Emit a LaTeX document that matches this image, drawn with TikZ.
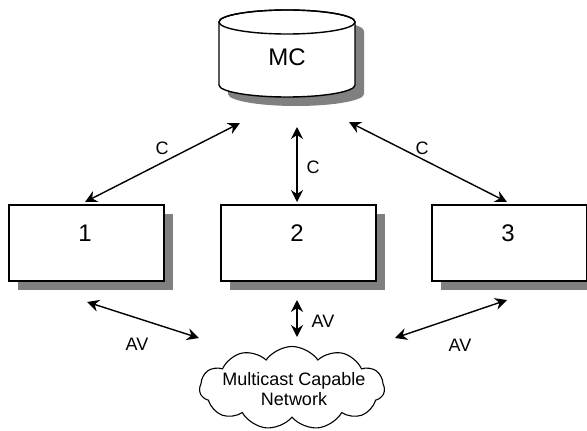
\documentclass[tikz,border=0pt]{standalone}
\usepackage{fontspec}
\setmainfont{Liberation Sans}
\usetikzlibrary{arrows.meta,shapes.symbols,shadows}
\begin{document}
\begin{tikzpicture}[x=1pt,y=-1pt,
  box/.style={draw, line width=1.7pt, fill=white, minimum width=155pt, minimum height=76pt, inner sep=0pt, anchor=north west,
    drop shadow={shadow xshift=9pt, shadow yshift=-9pt, fill=black!50, opacity=1}},
  shade/.style={fill=black!50},
  arr/.style={line width=1.4pt, {Stealth[length=12pt,width=12pt,inset=4pt]}-{Stealth[length=12pt,width=12pt,inset=4pt]}},
  lbl/.style={font=\fontsize{18}{20}\selectfont, inner sep=0pt},
  big/.style={font=\fontsize{24}{27}\selectfont, inner sep=0pt}]
\useasboundingbox (0,0) rectangle (587,431);
% cylinder MC
\begin{scope}[shift={(9,9)}]
  \fill[shade] (219,22) arc[start angle=180, end angle=360, x radius=68, y radius=12]
    -- (355,85) arc[start angle=0, end angle=180, x radius=68, y radius=12] -- cycle;
\end{scope}
\filldraw[fill=white, line width=1.4pt] (219,22) arc[start angle=180, end angle=360, x radius=68, y radius=12]
    -- (355,85) arc[start angle=0, end angle=180, x radius=68, y radius=12] -- cycle;
\draw[line width=1.4pt] (287,22) ellipse[x radius=68, y radius=12];
\node[big] (mc) at (287,57) {MC};
% boxes
\node[box] (b1) at (8,204) {};
\node[box] (b2) at (220,204) {};
\node[box] (b3) at (431,204) {};
\node[big] (t1) at (85,233) {1};
\node[big] (t2) at (297,233) {2};
\node[big] (t3) at (508,233) {3};
% cloud
\node[cloud, draw, line width=1.1pt, cloud puffs=11, cloud puff arc=110, aspect=2.2, minimum width=185pt, minimum height=83pt, inner sep=0pt, fill=white] (net) at (292,388) {};
\node[lbl, align=center, font=\fontsize{18}{20}\selectfont] (nettext) at (294,389) {Multicast Capable\\Network};
% C arrows
\coordinate (c1a) at (85,202);
\coordinate (c1b) at (240,123);
\coordinate (c2a) at (297,127);
\coordinate (c2b) at (297,202);
\coordinate (c3a) at (349,122);
\coordinate (c3b) at (507,202);
\draw[arr] (c1a) -- (c1b);
\draw[arr] (c2a) -- (c2b);
\draw[arr] (c3a) -- (c3b);
\node[lbl] (lc1) at (162,148) {C};
\node[lbl] (lc2) at (313,167) {C};
\node[lbl] (lc3) at (422,148) {C};
% AV arrows
\coordinate (a1a) at (87,302);
\coordinate (a1b) at (199,338);
\coordinate (a2a) at (297,300);
\coordinate (a2b) at (297,337);
\coordinate (a3a) at (507,300);
\coordinate (a3b) at (395,338);
\draw[arr] (a1a) -- (a1b);
\draw[arr] (a2a) -- (a2b);
\draw[arr] (a3a) -- (a3b);
\node[lbl] (lav1) at (137,344) {AV};
\node[lbl] (lav2) at (323,321) {AV};
\node[lbl] (lav3) at (460,345) {AV};
\end{tikzpicture}
\end{document}
